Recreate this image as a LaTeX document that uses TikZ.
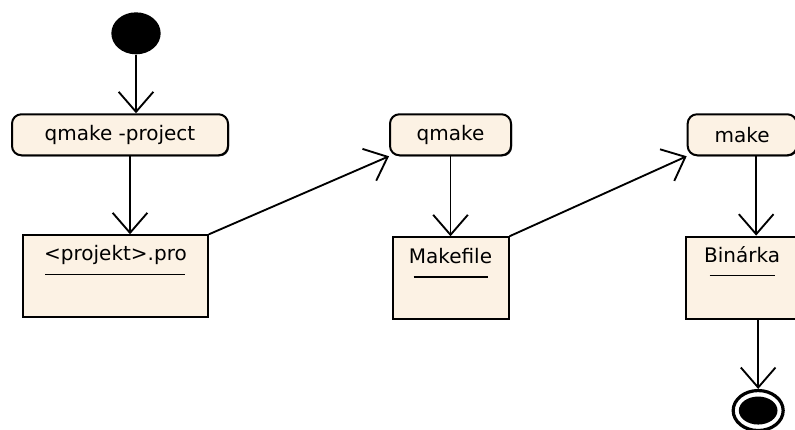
\documentclass[tikz,border=0pt]{standalone}
\usepackage{fontspec}
\setmainfont{DejaVu Sans}
\usetikzlibrary{shapes.geometric,arrows.meta,positioning,shadows}
\definecolor{umlfill}{RGB}{252,242,228}
\tikzset{
  startdot/.style={ellipse, fill=black, minimum width=37pt, minimum height=31.5pt, inner sep=0pt},
  enddot/.style={ellipse, draw=black, line width=2.4pt, fill=white, minimum width=37.5pt, minimum height=30pt, inner sep=0pt,
    path picture={\fill[black] (path picture bounding box.center) ellipse (14.5pt and 10.5pt);}},
  act/.style={rectangle, rounded corners=7pt, draw=black, line width=1.5pt, fill=umlfill, minimum height=30.75pt,
    font=\fontsize{15}{15}\selectfont, inner sep=2pt,
    drop shadow={shadow xshift=.8pt, shadow yshift=-.8pt, fill=black, opacity=.8}},
  obj/.style={rectangle, draw=black, line width=1.5pt, fill=umlfill, minimum height=61.5pt,
    drop shadow={shadow xshift=.8pt, shadow yshift=-.8pt, fill=black, opacity=.8}},
  objname/.style={anchor=north, align=center, inner sep=0pt, font=\fontsize{15}{15}\selectfont},
  arr/.style={-{Straight Barb[length=15pt, width=26pt]}, draw=black, line width=1.4pt},
}

\begin{document}
\begin{tikzpicture}
\useasboundingbox (0,0) rectangle (596.25pt,-321.75pt);
% activities along the top row
\node[startdot] (start) at (102pt,-25pt) {};
\node[act, minimum width=162pt, below=44pt of start, xshift=-12pt] (proj) {qmake -project};
\node[act, minimum width=90.75pt, right=120pt of proj] (qmake) {qmake};
\node[act, minimum width=81.75pt, right=131pt of qmake] (make) {make};
% generated files
\node[obj, minimum width=138.75pt, below=58.5pt of proj, xshift=-3.4pt] (pro) {};
\node[objname, below=8pt of pro.north] (proname) {<projekt>.pro\\[-4pt]\rule{105pt}{.8pt}};
\node[obj, minimum width=87pt, below=60pt of qmake] (mkf) {};
\node[objname, below=9pt of mkf.north] (mkfname) {Makefile\\[-4pt]\rule{55.5pt}{2pt}};
\node[obj, minimum width=84pt, below=59.5pt of make] (bin) {};
\node[objname, below=8pt of bin.north] (binname) {Binárka\\[-5pt]\rule{49pt}{.8pt}};
\node[enddot, below=52pt of bin, xshift=12pt] (end) {};

\draw[arr] (start) -- (start |- proj.north);
\draw[arr] ([xshift=7.5pt]proj.south) -- ([xshift=7.5pt]proj.south |- pro.north);
\draw[arr] (pro.north east) -- (qmake.south west);
\draw[arr] (qmake.south) -- (qmake.south |- mkf.north);
\draw[arr] (mkf.north east) -- (make.south west);
\draw[arr] ([xshift=10.5pt]make.south) -- ([xshift=10.5pt]make.south |- bin.north);
\draw[arr] (end |- bin.south) -- (end.north);
\end{tikzpicture}
\end{document}
